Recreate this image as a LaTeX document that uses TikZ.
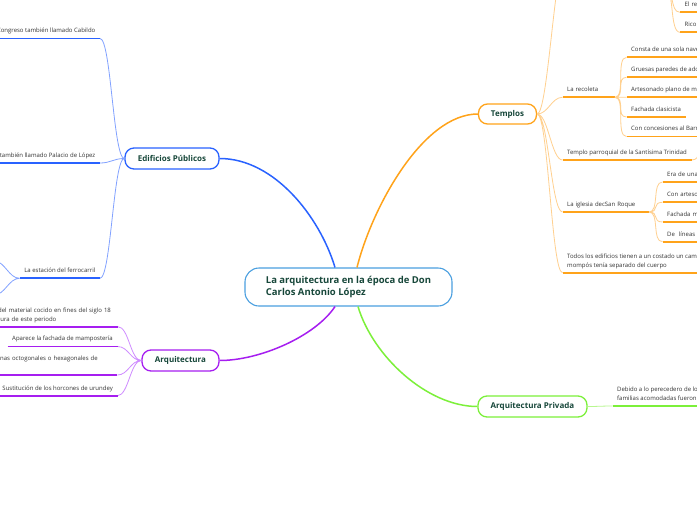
\documentclass[tikz,border=0pt]{standalone}
\usepackage{fontspec}
\setmainfont{Open Sans}
\usetikzlibrary{positioning}

\definecolor{rootblue}{HTML}{4A9FE0}
\definecolor{edblue}{HTML}{2962FF}
\definecolor{edlight}{HTML}{82A2FF}
\definecolor{arpurple}{HTML}{A61EF0}
\definecolor{arlight}{HTML}{CF8CFF}
\definecolor{teorange}{HTML}{FFA31A}
\definecolor{telight}{HTML}{FFD08F}
\definecolor{prgreen}{HTML}{7CF03A}
\definecolor{prlight}{HTML}{B8F78F}
\definecolor{catgreen}{HTML}{17473A}
\definecolor{leafgray}{HTML}{333333}

\begin{document}
\begin{tikzpicture}[x=1pt, y=-1pt,
  every node/.style={font=\fontsize{6}{8.5}\selectfont},
  root/.style={draw=rootblue, line width=1.1pt, rounded corners=14pt, fill=white,
               minimum width=207pt, minimum height=38pt, align=left, text=catgreen,
               font=\bfseries\fontsize{9.5}{12}\selectfont},
  cat/.style={draw=#1, line width=1.3pt, rounded corners=9pt, fill=white,
              minimum height=21pt, text=catgreen, font=\bfseries\fontsize{8}{10}\selectfont},
  leaf/.style={inner xsep=4.5pt, inner ysep=4pt, text depth=1.5pt, align=left, text=leafgray},
  ul/.style={draw=#1, line width=1.8pt},
  main/.style={draw=#1, line width=1.5pt},
  brl/.style={draw=#1, line width=.8pt, to path={.. controls +(-11,0) and +(11,0) .. (\tikztotarget)}},
  brr/.style={draw=#1, line width=.8pt, to path={.. controls +(11,0) and +(-11,0) .. (\tikztotarget)}}
]
  \useasboundingbox (0,0) rectangle (697,520);
  \fill[white] (0,0) rectangle (697,520);

  % centro
  \node[root] (root) at (348.5,287) {La arquitectura en la época de Don\\Carlos Antonio López};

  % ramas principales
  \node[cat=edblue, minimum width=94pt] (edif) at (172,158.5) {Edificios Públicos};
  \node[cat=arpurple, minimum width=77pt] (arq) at (180.5,360.5) {Arquitectura};
  \node[cat=teorange, minimum width=58pt, minimum height=20pt] (temp) at (507.5,114) {Templos};
  \node[cat=prgreen, minimum width=109pt] (priv) at (532.5,406.5) {Arquitectura Privada};

  \draw[main=edblue] ([xshift=-13.5pt]root.north) .. controls +(-15,-50) and +(55,0) .. (edif.east);
  \draw[main=teorange] ([xshift=8.5pt]root.north) .. controls +(15,-60) and +(-55,0) .. (temp.west);
  \draw[main=arpurple] ([xshift=-13.5pt]root.south) .. controls +(-20,30) and +(40,0) .. (arq.east);
  \draw[main=prgreen] ([xshift=9.5pt]root.south) .. controls +(15,50) and +(-50,0) .. (priv.west);

  % Edificios Publicos
  \node[leaf, anchor=south east] (e1) at (100,38.5) {Congreso también llamado Cabildo};
  \node[leaf, anchor=south east] (e2) at (100,163) {también llamado Palacio de López};
  \node[leaf, anchor=south east] (e3) at (100,278.3) {La estación del ferrocarril};
  \coordinate (e3a) at (-6,261);
  \coordinate (e3b) at (-6,295);
  \draw[brl=edlight] (edif.west) to (e1.south east) (edif.west) to (e2.south east)
    (edif.west) to (e3.south east);
  \draw[brl=edlight] (e3.south west) to (e3a) (e3.south west) to (e3b);
  \draw[ul=edblue] (e1.south west) -- (e1.south east) (e2.south west) -- (e2.south east)
    (e3.south west) -- (e3.south east);

  % Arquitectura
  \node[leaf, anchor=south west, text width=115pt, text depth=10pt] (a1) at (-6.5,326.7) {del material cocido en fines del siglo 18\\tura de este periodo};
  \node[leaf, anchor=south east] (a2) at (117.5,346.5) {Aparece la fachada de mampostería};
  \node[leaf, anchor=south west, text width=112.5pt, text depth=10.4pt] (a3) at (-4.5,375) {nas octogonales o hexagonales de};
  \node[leaf, anchor=south east] (a4) at (117.5,395.7) {Sustitución de los horcones de urundey};
  \draw[brl=arlight] (arq.west) to (a1.south east) (arq.west) to (a2.south east)
    (arq.west) to (a3.south east) (arq.west) to (a4.south east);
  \draw[ul=arpurple] (a1.south west) -- (a1.south east) (a2.south west) -- (a2.south east)
    (a3.south west) -- (a3.south east) (a4.south west) -- (a4.south east);

  % Templos
  \coordinate (ttop) at (566,-45);
  \node[leaf, anchor=south west, text width=43pt] (t1) at (562.5,97.3) {La recoleta};
  \node[leaf, anchor=south west] (t2) at (562.5,160) {Templo parroquial de la Santísima Trinidad};
  \node[leaf, anchor=south west, text width=77pt] (t3) at (562.5,212) {La iglesia decSan Roque};
  \node[leaf, anchor=south west] (t4) at (562.5,272.7) {Todos los edificios tienen a un costado un campanario\\mompós tenía separado del cuerpo};
  \coordinate (t2r) at (706,146);
  \draw[brr=telight] (temp.east) to (ttop) (temp.east) to (t1.south west)
    (temp.east) to (t2.south west) (temp.east) to (t3.south west) (temp.east) to (t4.south west);
  \draw[brr=telight] (t2.south east) to (t2r);
  \draw[ul=teorange] (t1.south west) -- (t1.south east) (t2.south west) -- (t2.south east)
    (t3.south west) -- (t3.south east) (t4.south west) -- (t4.south east);

  % hijos arriba
  \coordinate (tfork) at (664,-14);
  \node[leaf, anchor=south west, text width=40pt] (o1) at (680,12.3) {El retablo};
  \node[leaf, anchor=south west, text width=40pt] (o2) at (680,32.3) {Rico};
  \draw[brr=telight] (tfork) to (o1.south west) (tfork) to (o2.south west);
  \draw[ul=teorange] (o1.south west) -- (o1.south east) (o2.south west) -- (o2.south east);

  % La recoleta
  \node[leaf, anchor=south west] (r1) at (626.5,57.3) {Consta de una sola nave};
  \node[leaf, anchor=south west] (r2) at (626.5,77.3) {Gruesas paredes de adobe};
  \node[leaf, anchor=south west] (r3) at (626.5,97.3) {Artesonado plano de madera};
  \node[leaf, anchor=south west] (r4) at (626.5,117) {Fachada clasicista};
  \node[leaf, anchor=south west] (r5) at (626.5,136.5) {Con concesiones al Barroco};
  \draw[brr=telight] (t1.south east) to (r1.south west) (t1.south east) to (r2.south west)
    (t1.south east) to (r3.south west) (t1.south east) to (r4.south west)
    (t1.south east) to (r5.south west);
  \draw[ul=teorange] (r1.south west) -- (r1.south east) (r2.south west) -- (r2.south east)
    (r3.south west) -- (r3.south east) (r4.south west) -- (r4.south east)
    (r5.south west) -- (r5.south east);

  % San Roque
  \node[leaf, anchor=south west, text width=80pt] (s1) at (662.5,182) {Era de una sola nave};
  \node[leaf, anchor=south west, text width=80pt] (s2) at (662.5,202.3) {Con artesonado};
  \node[leaf, anchor=south west, text width=80pt] (s3) at (662.5,222) {Fachada m};
  \node[leaf, anchor=south west, text width=80pt] (s4) at (662.5,241.7) {De \ líneas};
  \draw[brr=telight] (t3.south east) to (s1.south west) (t3.south east) to (s2.south west)
    (t3.south east) to (s3.south west) (t3.south east) to (s4.south west);
  \draw[ul=teorange] (s1.south west) -- (s1.south east) (s2.south west) -- (s2.south east)
    (s3.south west) -- (s3.south east) (s4.south west) -- (s4.south east);

  % Arquitectura Privada
  \node[leaf, anchor=south west] (p1) at (612.5,406) {Debido a lo perecedero de los materiales\\familias acomodadas fueron};
  \draw[brr=prlight] (priv.east) to (p1.south west);
  \draw[ul=prgreen] (p1.south west) -- (p1.south east);
\end{tikzpicture}
\end{document}
